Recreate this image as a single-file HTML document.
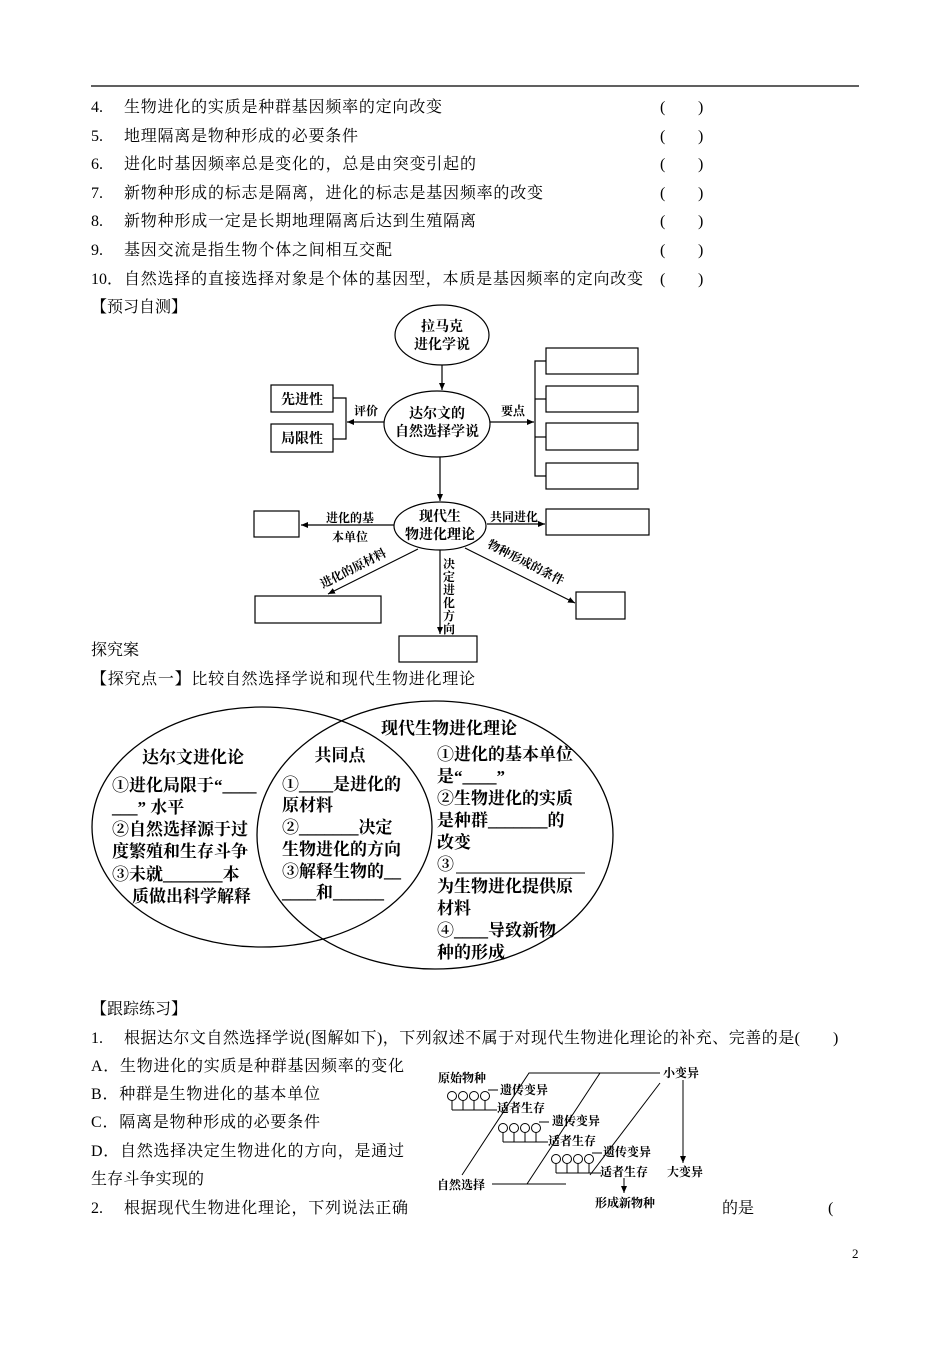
<!DOCTYPE html>
<html><head><meta charset="utf-8"><style>
html,body{margin:0;padding:0;background:#fff}
svg text{font-family:"Liberation Serif","Noto Serif CJK SC",serif;fill:#000}
.t{font-size:16px}
.d{font-size:14px;font-weight:bold}
.v{font-size:17px;font-weight:bold}
.f{font-size:12px;font-weight:bold}
</style></head><body>
<svg width="950" height="1344" viewBox="0 0 950 1344" xmlns="http://www.w3.org/2000/svg">
<defs><marker id="a" markerWidth="8" markerHeight="8" refX="7" refY="4" orient="auto" markerUnits="userSpaceOnUse"><path d="M0,1 L7,4 L0,7 z" fill="#000"/></marker></defs>
<line x1="91" y1="86" x2="859" y2="86" stroke="#000" stroke-width="1.2"/>
<g class="t">
<text x="91" y="112">4.</text><text x="124" y="112" textLength="318">生物进化的实质是种群基因频率的定向改变</text>
<text x="91" y="141">5.</text><text x="124" y="141" textLength="234">地理隔离是物种形成的必要条件</text>
<text x="91" y="169">6.</text><text x="124" y="169" textLength="352">进化时基因频率总是变化的，总是由突变引起的</text>
<text x="91" y="198">7.</text><text x="124" y="198" textLength="419">新物种形成的标志是隔离，进化的标志是基因频率的改变</text>
<text x="91" y="226">8.</text><text x="124" y="226" textLength="352">新物种形成一定是长期地理隔离后达到生殖隔离</text>
<text x="91" y="255">9.</text><text x="124" y="255" textLength="268">基因交流是指生物个体之间相互交配</text>
<text x="91" y="284">10．</text><text x="124" y="284" textLength="519">自然选择的直接选择对象是个体的基因型，本质是基因频率的定向改变</text>
<text x="660" y="112">(</text><text x="698" y="112">)</text>
<text x="660" y="141">(</text><text x="698" y="141">)</text>
<text x="660" y="169">(</text><text x="698" y="169">)</text>
<text x="660" y="198">(</text><text x="698" y="198">)</text>
<text x="660" y="226">(</text><text x="698" y="226">)</text>
<text x="660" y="255">(</text><text x="698" y="255">)</text>
<text x="660" y="284">(</text><text x="698" y="284">)</text>
<text x="91" y="312">【预习自测】</text>
<text x="91" y="655">探究案</text>
<text x="91" y="684" textLength="384">【探究点一】比较自然选择学说和现代生物进化理论</text>
<text x="91" y="1014">【跟踪练习】</text>
<text x="91" y="1043">1.</text><text x="124" y="1043" textLength="676">根据达尔文自然选择学说(图解如下)，下列叙述不属于对现代生物进化理论的补充、完善的是(</text><text x="833" y="1043">)</text>
<text x="91" y="1071" textLength="313">A．生物进化的实质是种群基因频率的变化</text>
<text x="91" y="1099" textLength="229">B．种群是生物进化的基本单位</text>
<text x="91" y="1127" textLength="229">C．隔离是物种形成的必要条件</text>
<text x="91" y="1156" textLength="313">D．自然选择决定生物进化的方向，是通过</text>
<text x="91" y="1184" textLength="113">生存斗争实现的</text>
<text x="91" y="1213">2.</text><text x="124" y="1213" textLength="284">根据现代生物进化理论，下列说法正确</text>
<text x="722" y="1213">的是</text><text x="828" y="1213">(</text>
<text x="852" y="1258" style="font-size:13px">2</text>
</g>
<g fill="none" stroke="#000" stroke-width="1.2">
<ellipse cx="442" cy="335" rx="47" ry="30"/>
<ellipse cx="437" cy="424" rx="53" ry="33"/>
<ellipse cx="440" cy="526" rx="46" ry="24"/>
<rect x="271" y="385" width="62" height="27"/>
<rect x="271" y="424" width="62" height="28"/>
<polyline points="333,398 346,398 346,439 333,439"/>
<line x1="384" y1="422" x2="347" y2="422" marker-end="url(#a)"/>
<line x1="442" y1="365" x2="442" y2="390" marker-end="url(#a)"/>
<line x1="490" y1="422" x2="534" y2="422" marker-end="url(#a)"/>
<polyline points="546,361 535,361 535,476 546,476"/>
<line x1="535" y1="399" x2="546" y2="399"/><line x1="535" y1="437" x2="546" y2="437"/>
<rect x="546" y="348" width="92" height="26"/>
<rect x="546" y="386" width="92" height="26"/>
<rect x="546" y="423" width="92" height="27"/>
<rect x="546" y="463" width="92" height="26"/>
<line x1="440" y1="457" x2="440" y2="501" marker-end="url(#a)"/>
<rect x="254" y="511" width="45" height="26"/>
<line x1="394" y1="525" x2="301" y2="525" marker-end="url(#a)"/>
<rect x="546" y="509" width="103" height="26"/>
<line x1="487" y1="524" x2="545" y2="524" marker-end="url(#a)"/>
<rect x="255" y="596" width="126" height="27"/>
<line x1="418" y1="549" x2="328" y2="594" marker-end="url(#a)"/>
<rect x="399" y="636" width="78" height="26"/>
<line x1="440" y1="550" x2="440" y2="634" marker-end="url(#a)"/>
<rect x="576" y="592" width="49" height="27"/>
<line x1="465" y1="548" x2="575" y2="603" marker-end="url(#a)"/>
</g>
<g class="d" text-anchor="middle">
<text x="442" y="331">拉马克</text><text x="442" y="349">进化学说</text>
<text x="437" y="418">达尔文的</text><text x="437" y="436">自然选择学说</text>
<text x="440" y="521">现代生</text><text x="440" y="539">物进化理论</text>
<text x="302" y="404">先进性</text><text x="302" y="443">局限性</text>
<text x="366" y="415" style="font-size:12px">评价</text>
<text x="513" y="415" style="font-size:12px">要点</text>
<text x="350" y="522" style="font-size:12px">进化的基</text>
<text x="350" y="541" style="font-size:12px">本单位</text>
<text x="514" y="521" style="font-size:12px">共同进化</text>
<text x="355" y="572" style="font-size:12px" transform="rotate(-27 355 572)">进化的原材料</text>
<text x="524" y="566" style="font-size:12px" transform="rotate(27 524 566)">物种形成的条件</text>
</g>
<g class="d" style="font-size:12px" text-anchor="middle">
<text x="449" y="568">决</text><text x="449" y="581">定</text><text x="449" y="594">进</text><text x="449" y="607">化</text><text x="449" y="620">方</text><text x="449" y="633">向</text>
</g>
<g fill="none" stroke="#000" stroke-width="1.3">
<ellipse cx="262" cy="827" rx="170" ry="120"/>
<ellipse cx="435" cy="835" rx="178" ry="134"/>
</g>
<g class="v">
<text x="193" y="763" text-anchor="middle">达尔文进化论</text>
<text x="112" y="791">①进化局限于“____</text>
<text x="112" y="813">___” 水平</text>
<text x="112" y="835">②自然选择源于过</text>
<text x="112" y="857">度繁殖和生存斗争</text>
<text x="112" y="880">③未就_______本</text>
<text x="132" y="902">质做出科学解释</text>
<text x="340" y="761" text-anchor="middle">共同点</text>
<text x="282" y="790">①____是进化的</text>
<text x="282" y="811">原材料</text>
<text x="282" y="833">②_______决定</text>
<text x="282" y="855">生物进化的方向</text>
<text x="282" y="877">③解释生物的__</text>
<text x="282" y="898">____和______</text>
<text x="449" y="734" text-anchor="middle">现代生物进化理论</text>
<text x="437" y="760">①进化的基本单位</text>
<text x="437" y="782">是“____”</text>
<text x="437" y="804">②生物进化的实质</text>
<text x="437" y="826">是种群_______的</text>
<text x="437" y="848">改变</text>
<text x="437" y="870">③</text>
<text x="437" y="892">为生物进化提供原</text>
<text x="437" y="914">材料</text>
<text x="437" y="936">④____导致新物</text>
<text x="437" y="958">种的形成</text>
</g>
<line x1="456" y1="873" x2="585" y2="873" stroke="#000" stroke-width="1"/>
<g fill="none" stroke="#000" stroke-width="1">
<polyline points="462,1175 529,1073 660,1073"/>
<line x1="600" y1="1073" x2="527" y2="1184"/>
<line x1="660" y1="1083" x2="590" y2="1175"/>
<line x1="492" y1="1184" x2="566" y2="1184"/>
<line x1="683" y1="1080" x2="683" y2="1163" marker-end="url(#a)"/>
<line x1="624" y1="1178" x2="624" y2="1193" marker-end="url(#a)"/>
<g id="g1">
<circle cx="452" cy="1096" r="4.5"/><circle cx="463" cy="1096" r="4.5"/><circle cx="474" cy="1096" r="4.5"/><circle cx="485" cy="1096" r="4.5"/>
<line x1="452" y1="1100" x2="452" y2="1110"/><line x1="463" y1="1100" x2="463" y2="1110"/><line x1="474" y1="1100" x2="474" y2="1110"/><line x1="485" y1="1100" x2="485" y2="1110"/>
<line x1="452" y1="1110" x2="497" y2="1110"/><line x1="488" y1="1090" x2="498" y2="1090"/>
</g>
<use href="#g1" transform="translate(51 32)"/>
<use href="#g1" transform="translate(104 63)"/>
</g>
<g class="f">
<text x="438" y="1082">原始物种</text>
<text x="500" y="1094">遗传变异</text><text x="497" y="1112">适者生存</text>
<text x="552" y="1125">遗传变异</text><text x="548" y="1145">适者生存</text>
<text x="603" y="1156">遗传变异</text><text x="600" y="1176">适者生存</text>
<text x="663" y="1077">小变异</text><text x="667" y="1176">大变异</text>
<text x="437" y="1189">自然选择</text><text x="595" y="1207">形成新物种</text>
</g>
</svg>
</body></html>
